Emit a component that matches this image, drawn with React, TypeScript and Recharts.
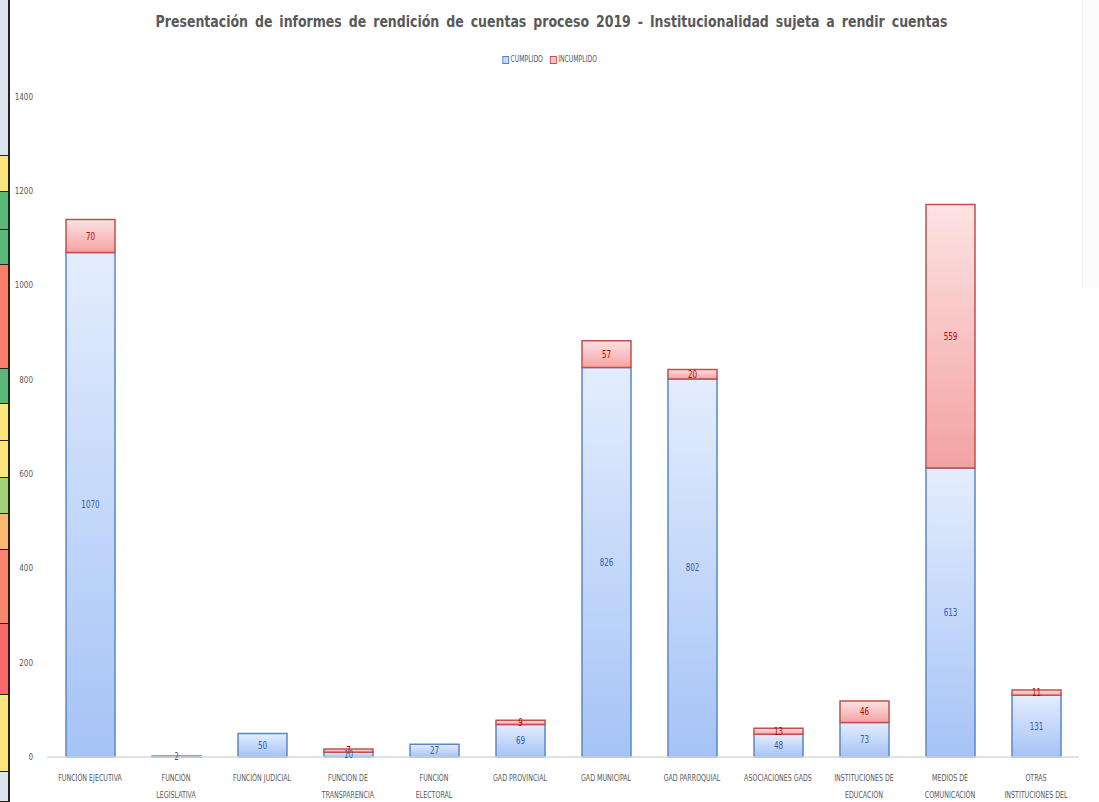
import React from "react";
import { BarChart, Bar, XAxis, YAxis, LabelList } from "recharts";

const categories: string[][] = [
  ["FUNCIÓN EJECUTIVA"],
  ["FUNCIÓN", "LEGISLATIVA"],
  ["FUNCIÓN JUDICIAL"],
  ["FUNCIÓN DE", "TRANSPARENCIA"],
  ["FUNCIÓN", "ELECTORAL"],
  ["GAD PROVINCIAL"],
  ["GAD MUNICIPAL"],
  ["GAD PARROQUIAL"],
  ["ASOCIACIONES GADS"],
  ["INSTITUCIONES DE", "EDUCACIÓN"],
  ["MEDIOS DE", "COMUNICACIÓN"],
  ["OTRAS", "INSTITUCIONES DEL", "ESTADO"],
];
const cumplido = [1070, 2, 50, 10, 27, 69, 826, 802, 48, 73, 613, 131];
const incumplido = [70, 0, 0, 7, 0, 9, 57, 20, 13, 46, 559, 11];
const yTicks = [0, 200, 400, 600, 800, 1000, 1200, 1400];

// left edge strip from the original screenshot
const stripColors = [
  ["#dce4ee", 0, 156],
  ["#fbe57d", 156, 192],
  ["#5cb87a", 192, 230],
  ["#5cb87a", 230, 265],
  ["#f7806a", 265, 369],
  ["#5cb87a", 369, 404],
  ["#fbe57d", 404, 441],
  ["#fbe57d", 441, 478],
  ["#a3d07a", 478, 514],
  ["#fbb872", 514, 550],
  ["#f7876c", 550, 624],
  ["#f56a6a", 624, 695],
  ["#fbe57d", 695, 772],
  ["#dce4ee", 772, 802],
] as const;

const data = categories.map((lines, i) => ({
  name: lines.join(" "),
  cumplido: cumplido[i],
  incumplido: incumplido[i],
}));

const FONT = "'DejaVu Sans Condensed', 'Liberation Sans Narrow', sans-serif";

const CategoryTick = (props: any) => {
  const { x, y, payload } = props;
  const lines = categories[payload.index] || [payload.value];
  return (
    <g transform={`translate(${x},${y}) scale(0.78,1)`}>
      {lines.map((l, k) => (
        <text
          key={k}
          x={0}
          y={16 + k * 17}
          textAnchor="middle"
          fontSize={9}
          fill="#595959"
          fontFamily={FONT}
        >
          {l}
        </text>
      ))}
    </g>
  );
};

const hideZero = (v: any) => (v ? v : "");

const BarLabel = (color: string) => (props: any) => {
  const { x, y, width, height, value } = props;
  if (!value) return null;
  return (
    <text
      x={0}
      y={0}
      transform={`translate(${x + width / 2},${y + height / 2 + 3.5}) scale(0.8,1)`}
      textAnchor="middle"
      fontSize={10}
      fill={color}
      fontFamily={FONT}
    >
      {hideZero(value)}
    </text>
  );
};

export default function App() {
  return (
    <div
      style={{
        position: "absolute",
        left: 0,
        top: 0,
        width: 1099,
        height: 802,
        overflow: "hidden",
        background: "#fff",
      }}
    >
      {stripColors.map(([c, y0, y1], i) => (
        <div
          key={i}
          style={{
            position: "absolute",
            left: 0,
            top: y0,
            width: 8,
            height: y1 - y0 - 1,
            background: c,
            borderBottom: "1px solid #222",
          }}
        />
      ))}
      <div style={{ position: "absolute", left: 8, top: 0, width: 1.5, height: 802, background: "#222" }} />
      <div
        style={{
          position: "absolute",
          left: 1082,
          top: 0,
          width: 17,
          height: 288,
          background: "#fbfbfb",
          borderLeft: "1px solid #f0f0f0",
        }}
      />
      <div
        style={{
          position: "absolute",
          left: 0,
          top: 12,
          width: 1099,
          textAlign: "center",
          fontFamily: FONT,
          fontWeight: "bold",
          fontSize: 16,
          wordSpacing: 3,
          color: "#595959",
          transform: "translateX(2px) scaleX(0.87)",
          whiteSpace: "nowrap",
        }}
      >
        Presentación de informes de rendición de cuentas proceso 2019 - Institucionalidad sujeta a rendir cuentas
      </div>
      <div
        style={{
          position: "absolute",
          left: 0,
          top: 55,
          width: 1099,
          display: "flex",
          justifyContent: "center",
          gap: 8,
          fontFamily: FONT,
          fontSize: 8,
          color: "#595959",
          transform: "scaleX(0.85)",
        }}
      >
        <span style={{ display: "flex", alignItems: "center", gap: 2 }}>
          <span style={{ width: 6, height: 6, border: "1px solid #4f7fc6", background: "#c6d9fa" }} />
          CUMPLIDO
        </span>
        <span style={{ display: "flex", alignItems: "center", gap: 2 }}>
          <span style={{ width: 6, height: 6, border: "1px solid #c0504d", background: "#f9c4c4" }} />
          INCUMPLIDO
        </span>
      </div>
      <div style={{ position: "absolute", left: 0, top: 0 }}>
        <BarChart
          width={1099}
          height={830}
          data={data}
          margin={{ top: 97, right: 20, bottom: 43, left: 0 }}
          barSize={49}
        >
          <defs>
            <linearGradient id="gBlue" x1="0" y1="0" x2="0" y2="1">
              <stop offset="0%" stopColor="#e4edfd" />
              <stop offset="100%" stopColor="#a5c3f6" />
            </linearGradient>
            <linearGradient id="gRed" x1="0" y1="0" x2="0" y2="1">
              <stop offset="0%" stopColor="#fde3e3" />
              <stop offset="100%" stopColor="#f3a2a2" />
            </linearGradient>
          </defs>
          <XAxis
            dataKey="name"
            interval={0}
            tick={<CategoryTick />}
            tickLine={false}
            height={30}
            axisLine={{ stroke: "#d9d9d9", strokeWidth: 1.5 }}
          />
          <YAxis
            width={47}
            domain={[0, 1400]}
            ticks={yTicks}
            axisLine={false}
            tickLine={false}
            tick={{ fontSize: 8, fill: "#595959", fontFamily: FONT }}
            tickMargin={8}
          />
          <Bar
            dataKey="cumplido"
            stackId="a"
            fill="url(#gBlue)"
            stroke="#5a87c9"
            strokeWidth={1.5}
            isAnimationActive={false}
          >
            <LabelList dataKey="cumplido" content={BarLabel("#2d5fb3")} />
          </Bar>
          <Bar
            dataKey="incumplido"
            stackId="a"
            fill="url(#gRed)"
            stroke="#c0504d"
            strokeWidth={1.5}
            isAnimationActive={false}
          >
            <LabelList dataKey="incumplido" content={BarLabel("#c00000")} />
          </Bar>
        </BarChart>
      </div>
    </div>
  );
}
